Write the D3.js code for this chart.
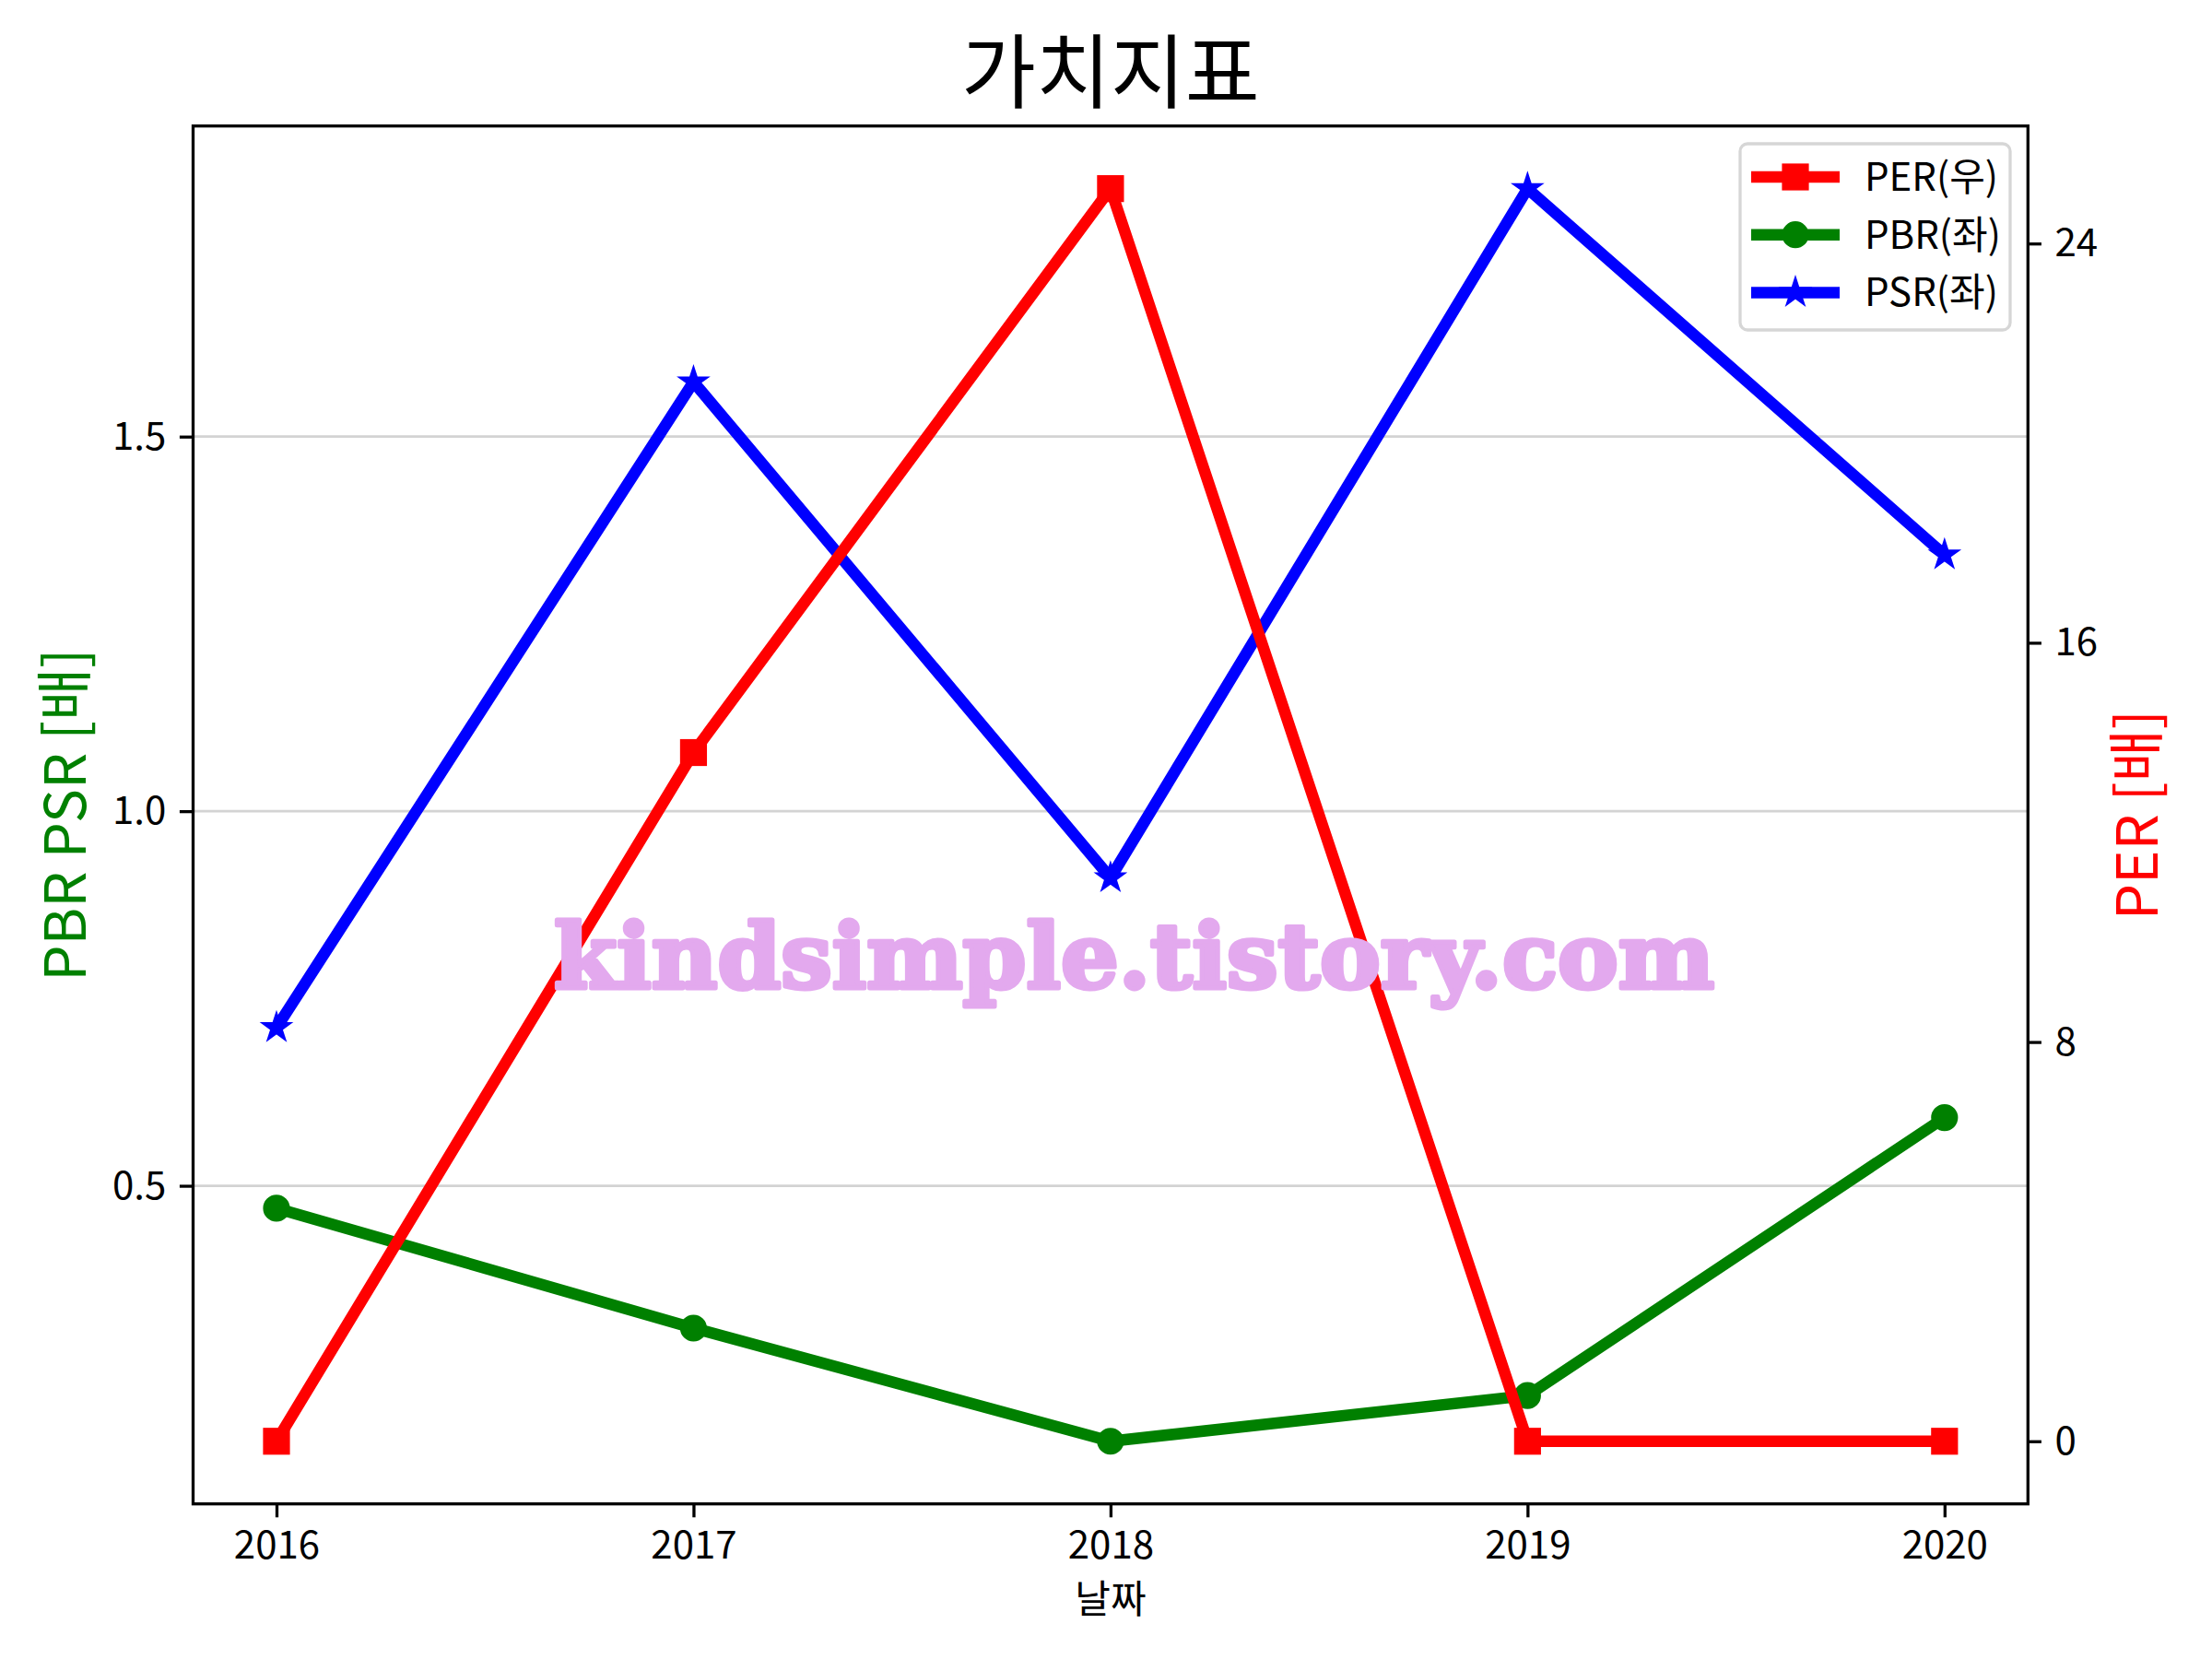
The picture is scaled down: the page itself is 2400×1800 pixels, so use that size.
<!DOCTYPE html>
<html>
<head>
<meta charset="utf-8">
<script src="https://cdn.jsdelivr.net/npm/d3@7"></script>
<style>
  html, body { margin: 0; padding: 0; background: #fff; }
  svg { display: block; }
</style>
</head>
<body>
<svg id="chart" width="2400" height="1800"></svg>
<script>
// ---- data ----
const years = [2016, 2017, 2018, 2019, 2020];
const perValues = [0, 13.8, 25.1, 0, 0];          // right axis
const pbrValues = [0.47, 0.31, 0.159, 0.22, 0.591]; // left axis
const psrValues = [0.711, 1.573, 0.911, 1.831, 1.342]; // left axis
const leftTicks = [0.5, 1.0, 1.5];
const rightTicks = [0, 8, 16, 24];
const xTicks = [2016, 2017, 2018, 2019, 2020];
const titleText = "가치지표";
const xLabel = "날짜";
const leftLabel = "PBR PSR [배]";
const rightLabel = "PER [배]";
const legendLabels = ["PER(우)", "PBR(좌)", "PSR(좌)"];
const watermark = "kindsimple.tistory.com";

// ---- layout ----
const W = 2400, H = 1800;
const L = 209.5, R = 2200.3, T = 136.7, B = 1631.7;
const FONT = "'Noto Sans CJK KR', 'Noto Sans', sans-serif";
const LW = 12.5, SPINE = 3.3, TICK = 14.6;

function padded(vals) {
  const mn = d3.min(vals), mx = d3.max(vals), m = (mx - mn) * 0.05;
  return [mn - m, mx + m];
}

const x = d3.scaleLinear().domain(padded(years)).range([L, R]);
const yL = d3.scaleLinear().domain(padded(pbrValues.concat(psrValues))).range([B, T]);
const yR = d3.scaleLinear().domain(padded(perValues)).range([B, T]);

const svg = d3.select("#chart");
svg.append("rect").attr("width", W).attr("height", H).attr("fill", "#fff");

// grid (left axis)
svg.append("g").selectAll("line").data(leftTicks).join("line")
  .attr("x1", L).attr("x2", R)
  .attr("y1", d => yL(d)).attr("y2", d => yL(d))
  .attr("stroke", "#d3d3d3").attr("stroke-width", 2.8);

// star path generator (matplotlib-like 5-point star)
function starPath(r) {
  const inner = r * 0.381966;
  const pts = [];
  for (let i = 0; i < 10; i++) {
    const a = -Math.PI / 2 + i * Math.PI / 5;
    const rr = i % 2 === 0 ? r : inner;
    pts.push([rr * Math.cos(a), rr * Math.sin(a)]);
  }
  return "M" + pts.map(p => p[0].toFixed(2) + "," + p[1].toFixed(2)).join("L") + "Z";
}

function drawMarker(g, type, color, cx, cy) {
  if (type === "square") {
    g.append("rect").attr("x", cx - 12.5).attr("y", cy - 12.5)
      .attr("width", 25).attr("height", 25)
      .attr("fill", color).attr("stroke", color).attr("stroke-width", 4.2);
  } else if (type === "circle") {
    g.append("circle").attr("cx", cx).attr("cy", cy).attr("r", 12.5)
      .attr("fill", color).attr("stroke", color).attr("stroke-width", 4.2);
  } else {
    g.append("path").attr("d", starPath(12.5))
      .attr("transform", `translate(${cx},${cy})`)
      .attr("fill", color).attr("stroke", color).attr("stroke-width", 4.2)
      .attr("stroke-linejoin", "miter");
  }
}

const series = [
  { vals: pbrValues, scale: yL, color: "#008000", marker: "circle" },
  { vals: psrValues, scale: yL, color: "#0000ff", marker: "star" },
  { vals: perValues, scale: yR, color: "#ff0000", marker: "square" }
];

const plot = svg.append("g");
series.forEach(s => {
  const g = plot.append("g");
  const line = d3.line().x((d, i) => x(years[i])).y(d => s.scale(d));
  g.append("path").datum(s.vals).attr("d", line)
    .attr("fill", "none").attr("stroke", s.color).attr("stroke-width", LW)
    .attr("stroke-linejoin", "round").attr("stroke-linecap", "butt");
  s.vals.forEach((v, i) => drawMarker(g, s.marker, s.color, x(years[i]), s.scale(v)));
});

// axes
function styleAxis(g) {
  g.select(".domain").remove();
  g.selectAll(".tick line").attr("stroke", "#000").attr("stroke-width", SPINE);
  g.selectAll(".tick text").attr("fill", "#000");
  g.attr("font-family", FONT).attr("font-size", 42);
}
svg.append("g").attr("transform", `translate(0,${B})`)
  .call(d3.axisBottom(x).tickValues(xTicks).tickFormat(d3.format("d"))
    .tickSize(TICK).tickPadding(TICK).tickSizeOuter(0))
  .call(styleAxis);
svg.append("g").attr("transform", `translate(${L},0)`)
  .call(d3.axisLeft(yL).tickValues(leftTicks).tickFormat(d3.format(".1f"))
    .tickSize(TICK).tickPadding(TICK).tickSizeOuter(0))
  .call(styleAxis);
svg.append("g").attr("transform", `translate(${R},0)`)
  .call(d3.axisRight(yR).tickValues(rightTicks).tickFormat(d3.format("d"))
    .tickSize(TICK).tickPadding(TICK).tickSizeOuter(0))
  .call(styleAxis);

// frame
svg.append("rect").attr("x", L).attr("y", T).attr("width", R - L).attr("height", B - T)
  .attr("fill", "none").attr("stroke", "#000").attr("stroke-width", SPINE);

// title and labels
svg.append("text").attr("x", (L + R) / 2).attr("y", 110)
  .attr("text-anchor", "middle").attr("font-family", FONT).attr("font-size", 88)
  .attr("fill", "#000").text(titleText);
svg.append("text").attr("x", (L + R) / 2).attr("y", 1750)
  .attr("text-anchor", "middle").attr("font-family", FONT).attr("font-size", 42)
  .attr("fill", "#000").text(xLabel);
svg.append("text").attr("transform", `translate(93,${(T + B) / 2}) rotate(-90)`)
  .attr("text-anchor", "middle").attr("font-family", FONT).attr("font-size", 62)
  .attr("fill", "#008000").text(leftLabel);
svg.append("text").attr("transform", `translate(2341,${(T + B) / 2}) rotate(-90)`)
  .attr("text-anchor", "middle").attr("font-family", FONT).attr("font-size", 62)
  .attr("fill", "#ff0000").text(rightLabel);

// legend
const leg = svg.append("g");
leg.append("rect").attr("x", 1888).attr("y", 156).attr("width", 293).attr("height", 202)
  .attr("rx", 8).attr("fill", "#fff").attr("fill-opacity", 0.8)
  .attr("stroke", "#cccccc").attr("stroke-opacity", 0.8).attr("stroke-width", 3.3);
const legSeries = [series[2], series[0], series[1]];
legSeries.forEach((s, i) => {
  const cy = 192 + i * 62.7;
  leg.append("line").attr("x1", 1900).attr("x2", 1996).attr("y1", cy).attr("y2", cy)
    .attr("stroke", s.color).attr("stroke-width", LW);
  drawMarker(leg, s.marker, s.color, 1948, cy);
  leg.append("text").attr("x", 2023).attr("y", cy + 15)
    .attr("font-family", FONT).attr("font-size", 42).attr("fill", "#000")
    .text(legendLabels[i]);
});

// watermark
svg.append("text").attr("x", 601).attr("y", 1072)
  .attr("font-family", "'DejaVu Serif', serif").attr("font-weight", "bold")
  .attr("font-size", 98).attr("fill", "#e3a9ee")
  .attr("stroke", "#e3a9ee").attr("stroke-width", 5).attr("stroke-linejoin", "round")
  .attr("textLength", 1259).attr("lengthAdjust", "spacingAndGlyphs")
  .text(watermark);
</script>
</body>
</html>
